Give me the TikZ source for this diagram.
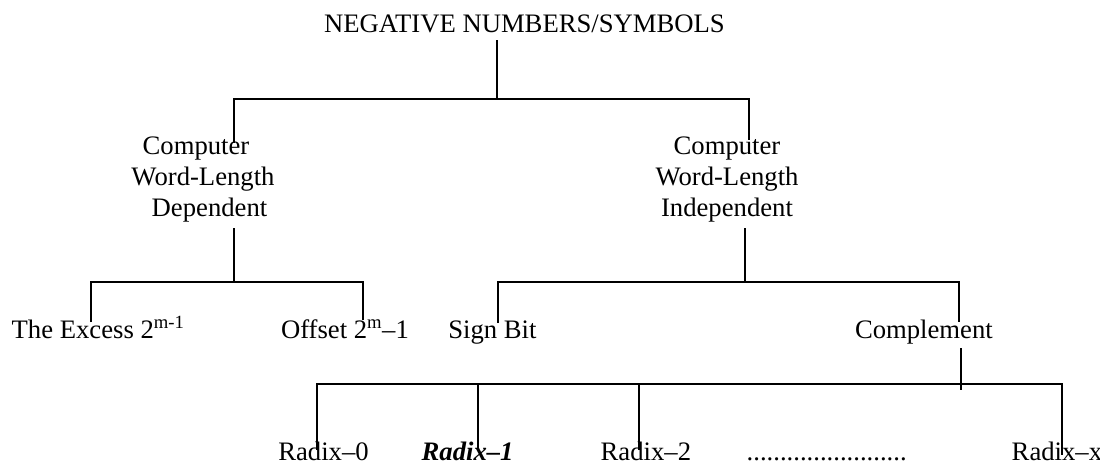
\documentclass[tikz,border=0pt]{standalone}
\usepackage{fontspec}
\setmainfont{Liberation Serif}
\newcommand\fsz{\fontsize{26.67}{31}\selectfont}
\newcommand\mlines[1]{\begin{tabular}[t]{@{}c@{}}#1\end{tabular}}
\begin{document}
\begin{tikzpicture}[x=1pt,y=-1pt,
  lbl/.style={inner sep=0pt, outer sep=0pt, anchor=base west, font=\fsz},
  mlbl/.style={inner sep=0pt, outer sep=0pt, anchor=base, font=\fsz},
  conn/.style={line width=1.8pt, line join=miter, draw=black},
  connb/.style={line width=1.5pt, line join=miter, draw=black}]
\useasboundingbox (0,0) rectangle (1100,466);
% texts
\node[lbl] (neg) at (324,32) {NEGATIVE NUMBERS/SYMBOLS};
\node[mlbl] (dep) at (203,154) {\mlines{Computer\hspace*{14pt}\\Word-Length\\\hspace*{13pt}Dependent}};
\node[mlbl] (ind) at (727,154) {\mlines{Computer\\Word-Length\\Independent}};
\node[lbl] (exc) at (11.7,338) {The Excess 2\textsuperscript{m-1}};
\node[lbl] (off) at (281,338) {Offset 2\textsuperscript{m}–1};
\node[lbl] (sgn) at (448.3,338) {Sign Bit};
\node[lbl] (cmp) at (855,338) {Complement};
\node[lbl] (r0) at (278.3,460) {Radix–0};
\node[lbl] (r1) at (421.7,460) {\textbf{\textit{Radix–1}}};
\node[lbl] (r2) at (600.7,460) {Radix–2};
\node[lbl] (dots) at (746.7,460) {........................};
\node[lbl] (rx) at (1011.7,460) {Radix–x};
% connector ends
\coordinate (neg-s) at (497,40);
\coordinate (j1) at (497,99);
\coordinate (dep-n) at (234,143);
\coordinate (ind-n) at (749,140);
\coordinate (dep-s) at (234,228);
\coordinate (j2) at (234,282);
\coordinate (exc-n) at (91,322);
\coordinate (off-n) at (363,320);
\coordinate (ind-s) at (745,228);
\coordinate (j3) at (745,282);
\coordinate (sgn-n) at (498,323);
\coordinate (cmp-n) at (959,322);
\coordinate (cmp-s) at (961,348);
\coordinate (j4) at (961,384);
\coordinate (j4e) at (961,390);
\coordinate (r0-n) at (317,450);
\coordinate (r1-n) at (478,450);
\coordinate (r2-n) at (639,450);
\coordinate (rx-n) at (1062,455);
% connectors
\draw[conn] (neg-s) -- (j1);
\draw[conn] (dep-n) |- (j1) -| (ind-n);
\draw[conn] (dep-s) -- (j2);
\draw[conn] (exc-n) |- (j2) -| (off-n);
\draw[conn] (ind-s) -- (j3);
\draw[conn] (sgn-n) |- (j3) -| (cmp-n);
\draw[connb] (cmp-s) -- (j4e);
\draw[connb] (r0-n) |- (j4) -| (rx-n);
\draw[connb] (r1-n) -- (r1-n |- j4);
\draw[connb] (r2-n) -- (r2-n |- j4);
\end{tikzpicture}
\end{document}
